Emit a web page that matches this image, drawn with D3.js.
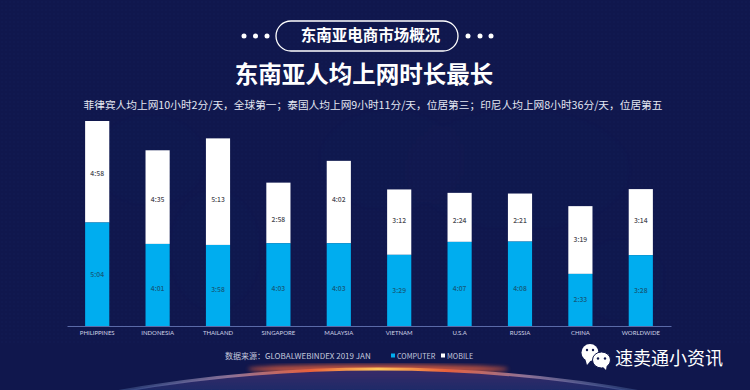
<!DOCTYPE html>
<html>
<head>
<meta charset="utf-8">
<script src="https://cdn.jsdelivr.net/npm/d3@7"></script>
<style>
  html, body { margin: 0; padding: 0; background: #10174d; }
  svg { display: block; }
  text { font-family: "Noto Sans CJK SC", "Noto Sans", sans-serif; }
</style>
</head>
<body>
<svg id="chart"></svg>
<script>
const categories = ['PHILIPPINES', 'INDONESIA', 'THAILAND', 'SINGAPORE', 'MALAYSIA', 'VIETNAM', 'U.S.A', 'RUSSIA', 'CHINA', 'WORLDWIDE'];
const computer = ['5:04', '4:01', '3:58', '4:03', '4:03', '3:29', '4:07', '4:08', '2:33', '3:28'];
const mobile = ['4:58', '4:35', '5:13', '2:58', '4:02', '3:12', '2:24', '2:21', '3:19', '3:14'];

const badgeTitle = '东南亚电商市场概况';
const mainTitle = '东南亚人均上网时长最长';
const subTitle = '菲律宾人均上网10小时2分/天，全球第一；泰国人均上网9小时11分/天，位居第三；印尼人均上网8小时36分/天，位居第五';
const sourceText = '数据来源：GLOBALWEBINDEX 2019 JAN';
const watermark = '速卖通小资讯';

const width = 750, height = 390;
const toMinutes = s => { const [h, m] = s.split(':'); return +h * 60 + +m; };

const svg = d3.select('#chart').attr('width', width).attr('height', height);
const defs = svg.append('defs');

// Background
const dots = defs.append('pattern').attr('id', 'dots')
    .attr('width', 4).attr('height', 4).attr('patternUnits', 'userSpaceOnUse');
dots.append('circle').attr('cx', 2).attr('cy', 2).attr('r', 0.8).attr('fill', '#2a3a7c');

const rim = defs.append('linearGradient').attr('id', 'rim')
    .attr('gradientUnits', 'userSpaceOnUse').attr('x1', 134).attr('x2', 622).attr('y1', 0).attr('y2', 0);
[[0, '#6f8fc8', 0.3], [0.2, '#9a7a9c', 0.9], [0.36, '#e8603c', 1], [0.5, '#ffc85a', 1], [0.64, '#e8603c', 1], [0.8, '#9a7a9c', 0.9], [1, '#6f8fc8', 0.3]]
    .forEach(s => rim.append('stop').attr('offset', s[0]).attr('stop-color', s[1]).attr('stop-opacity', s[2]));

const planet = defs.append('linearGradient').attr('id', 'planet').attr('gradientUnits', 'userSpaceOnUse')
    .attr('x1', 0).attr('x2', 0).attr('y1', 369).attr('y2', 392);
planet.append('stop').attr('offset', 0).attr('stop-color', '#3a2a68');
planet.append('stop').attr('offset', 1).attr('stop-color', '#1c2a68');

defs.append('filter').attr('id', 'wide').append('feGaussianBlur').attr('stdDeviation', 2.2);
defs.append('filter').attr('id', 'thin').append('feGaussianBlur').attr('stdDeviation', 0.6);

svg.append('rect').attr('width', width).attr('height', height).attr('fill', '#10174d');
svg.append('rect').attr('width', width).attr('height', 345).attr('fill', 'url(#dots)').attr('opacity', 0.12);

// faint world map patches behind the bars
const mapPatches = svg.append('g').attr('filter', 'url(#wide)').attr('opacity', 0.3);
[[150, 160, 55, 45], [215, 250, 45, 60], [390, 160, 70, 50], [520, 170, 110, 60], [620, 280, 45, 40]]
    .forEach(p => mapPatches.append('ellipse').attr('cx', p[0]).attr('cy', p[1]).attr('rx', p[2]).attr('ry', p[3]).attr('fill', 'url(#dots)'));

// Planet horizon
svg.append('ellipse').attr('cx', 378).attr('cy', 369).attr('rx', 130).attr('ry', 4.5)
    .attr('fill', '#e8603c').attr('opacity', 0.8).attr('filter', 'url(#wide)');
svg.append('circle').attr('cx', 378).attr('cy', 1867).attr('r', 1498)
    .attr('fill', 'url(#planet)').attr('stroke', 'url(#rim)').attr('stroke-width', 3).attr('filter', 'url(#thin)');

// Header
const cx = 367;
svg.append('rect').attr('x', 276).attr('y', 21).attr('width', 182).attr('height', 30).attr('rx', 15)
    .attr('fill', 'none').attr('stroke', '#fff').attr('stroke-width', 1.3);
svg.selectAll('.pill-dot').data([244, 255.5, 267, 468, 480, 491]).enter().append('circle')
    .attr('cx', d => d).attr('cy', 36).attr('r', 2.5).attr('fill', '#fff');
svg.append('text').attr('x', 370.5).attr('y', 41).attr('text-anchor', 'middle')
    .attr('font-size', 15.5).attr('font-weight', 700).attr('fill', '#fff').text(badgeTitle);
svg.append('text').attr('x', cx - 3).attr('y', 83).attr('text-anchor', 'middle')
    .attr('font-size', 23.5).attr('font-weight', 700).attr('fill', '#fff').text(mainTitle);
svg.append('text').attr('x', cx + 6).attr('y', 109).attr('text-anchor', 'middle')
    .attr('font-size', 10.7).attr('fill', '#e4e7f2').text(subTitle);

// Chart
const rows = categories.map((c, i) => ({ c, computer: toMinutes(computer[i]), mobile: toMinutes(mobile[i]), cl: computer[i], ml: mobile[i] }));
const x = d3.scaleBand().domain(categories).range([67, 671]).paddingInner(0.6).paddingOuter(0.3);
const y = d3.scaleLinear().domain([0, d3.max(rows, d => d.computer + d.mobile)]).range([326, 121]);

const bars = svg.append('g').selectAll('g').data(rows).enter().append('g')
    .attr('transform', d => `translate(${x(d.c)},0)`);
bars.append('rect')
    .attr('y', d => y(d.computer + d.mobile))
    .attr('width', x.bandwidth())
    .attr('height', d => y(d.computer) - y(d.computer + d.mobile))
    .attr('fill', '#fff');
bars.append('rect')
    .attr('y', d => y(d.computer))
    .attr('width', x.bandwidth())
    .attr('height', d => y(0) - y(d.computer))
    .attr('fill', '#00adef');

// the source deck places these labels on rough rows, not at segment centres
const mobileNudge = { PHILIPPINES: 2, INDONESIA: 3, THAILAND: 8, SINGAPORE: 7, MALAYSIA: -2, VIETNAM: -2, 'U.S.A': 3, RUSSIA: 3, WORLDWIDE: -2 };
const computerNudge = { INDONESIA: 4, THAILAND: 4, SINGAPORE: 4, MALAYSIA: 4, 'U.S.A': 5, RUSSIA: 5 };

bars.append('text').attr('x', x.bandwidth() / 2)
    .attr('y', d => (y(d.computer + d.mobile) + y(d.computer)) / 2 + (mobileNudge[d.c] || 0))
    .attr('dy', '0.35em').attr('text-anchor', 'middle')
    .attr('font-size', 6.8).attr('font-weight', 500).attr('fill', '#4a4a52').text(d => d.ml);
bars.append('text').attr('x', x.bandwidth() / 2)
    .attr('y', d => (y(d.computer) + y(0)) / 2 + (computerNudge[d.c] || 0))
    .attr('dy', '0.35em').attr('text-anchor', 'middle')
    .attr('font-size', 6.8).attr('font-weight', 500).attr('fill', '#14597a').text(d => d.cl);

const axis = svg.append('g').attr('transform', 'translate(0,326)')
    .call(d3.axisBottom(x).tickSize(0).tickPadding(5));
axis.select('.domain').attr('stroke', '#5a6aa8').attr('stroke-width', 1.2);
axis.selectAll('text').attr('font-size', 6).attr('fill', '#cfd3e6').style('font-family', 'Lato, "Open Sans", sans-serif');

// Source and legend
svg.append('text').attr('x', 225).attr('y', 359).attr('font-size', 8).attr('fill', '#c4c9de').text(sourceText);
svg.append('rect').attr('x', 391).attr('y', 353.5).attr('width', 4).attr('height', 4).attr('fill', '#00adef');
svg.append('text').attr('x', 397).attr('y', 359).attr('font-size', 7.2).attr('fill', '#c4c9de').text('COMPUTER');
svg.append('rect').attr('x', 441).attr('y', 353.5).attr('width', 4).attr('height', 4).attr('fill', '#fff');
svg.append('text').attr('x', 447).attr('y', 359).attr('font-size', 7.2).attr('fill', '#c4c9de').text('MOBILE');

// Watermark
const icon = svg.append('g').attr('fill', '#fff');
icon.append('ellipse').attr('cx', 590).attr('cy', 352.5).attr('rx', 8.5).attr('ry', 8.5);
icon.append('path').attr('d', d3.line()([[585, 358], [587, 365], [592, 359]]));
icon.append('circle').attr('cx', 587).attr('cy', 350).attr('r', 1.2).attr('fill', '#10174d');
icon.append('circle').attr('cx', 593).attr('cy', 350).attr('r', 1.2).attr('fill', '#10174d');
icon.append('ellipse').attr('cx', 601.5).attr('cy', 360).attr('rx', 9).attr('ry', 8).attr('stroke', '#10174d').attr('stroke-width', 1);
icon.append('path').attr('d', d3.line()([[602, 366], [606, 370], [607, 364]]));
icon.append('circle').attr('cx', 598).attr('cy', 358.5).attr('r', 1.2).attr('fill', '#10174d');
icon.append('circle').attr('cx', 605).attr('cy', 358.5).attr('r', 1.2).attr('fill', '#10174d');
svg.append('text').attr('x', 615).attr('y', 365).attr('font-size', 18).attr('fill', '#fff').text(watermark);
</script>
</body>
</html>
